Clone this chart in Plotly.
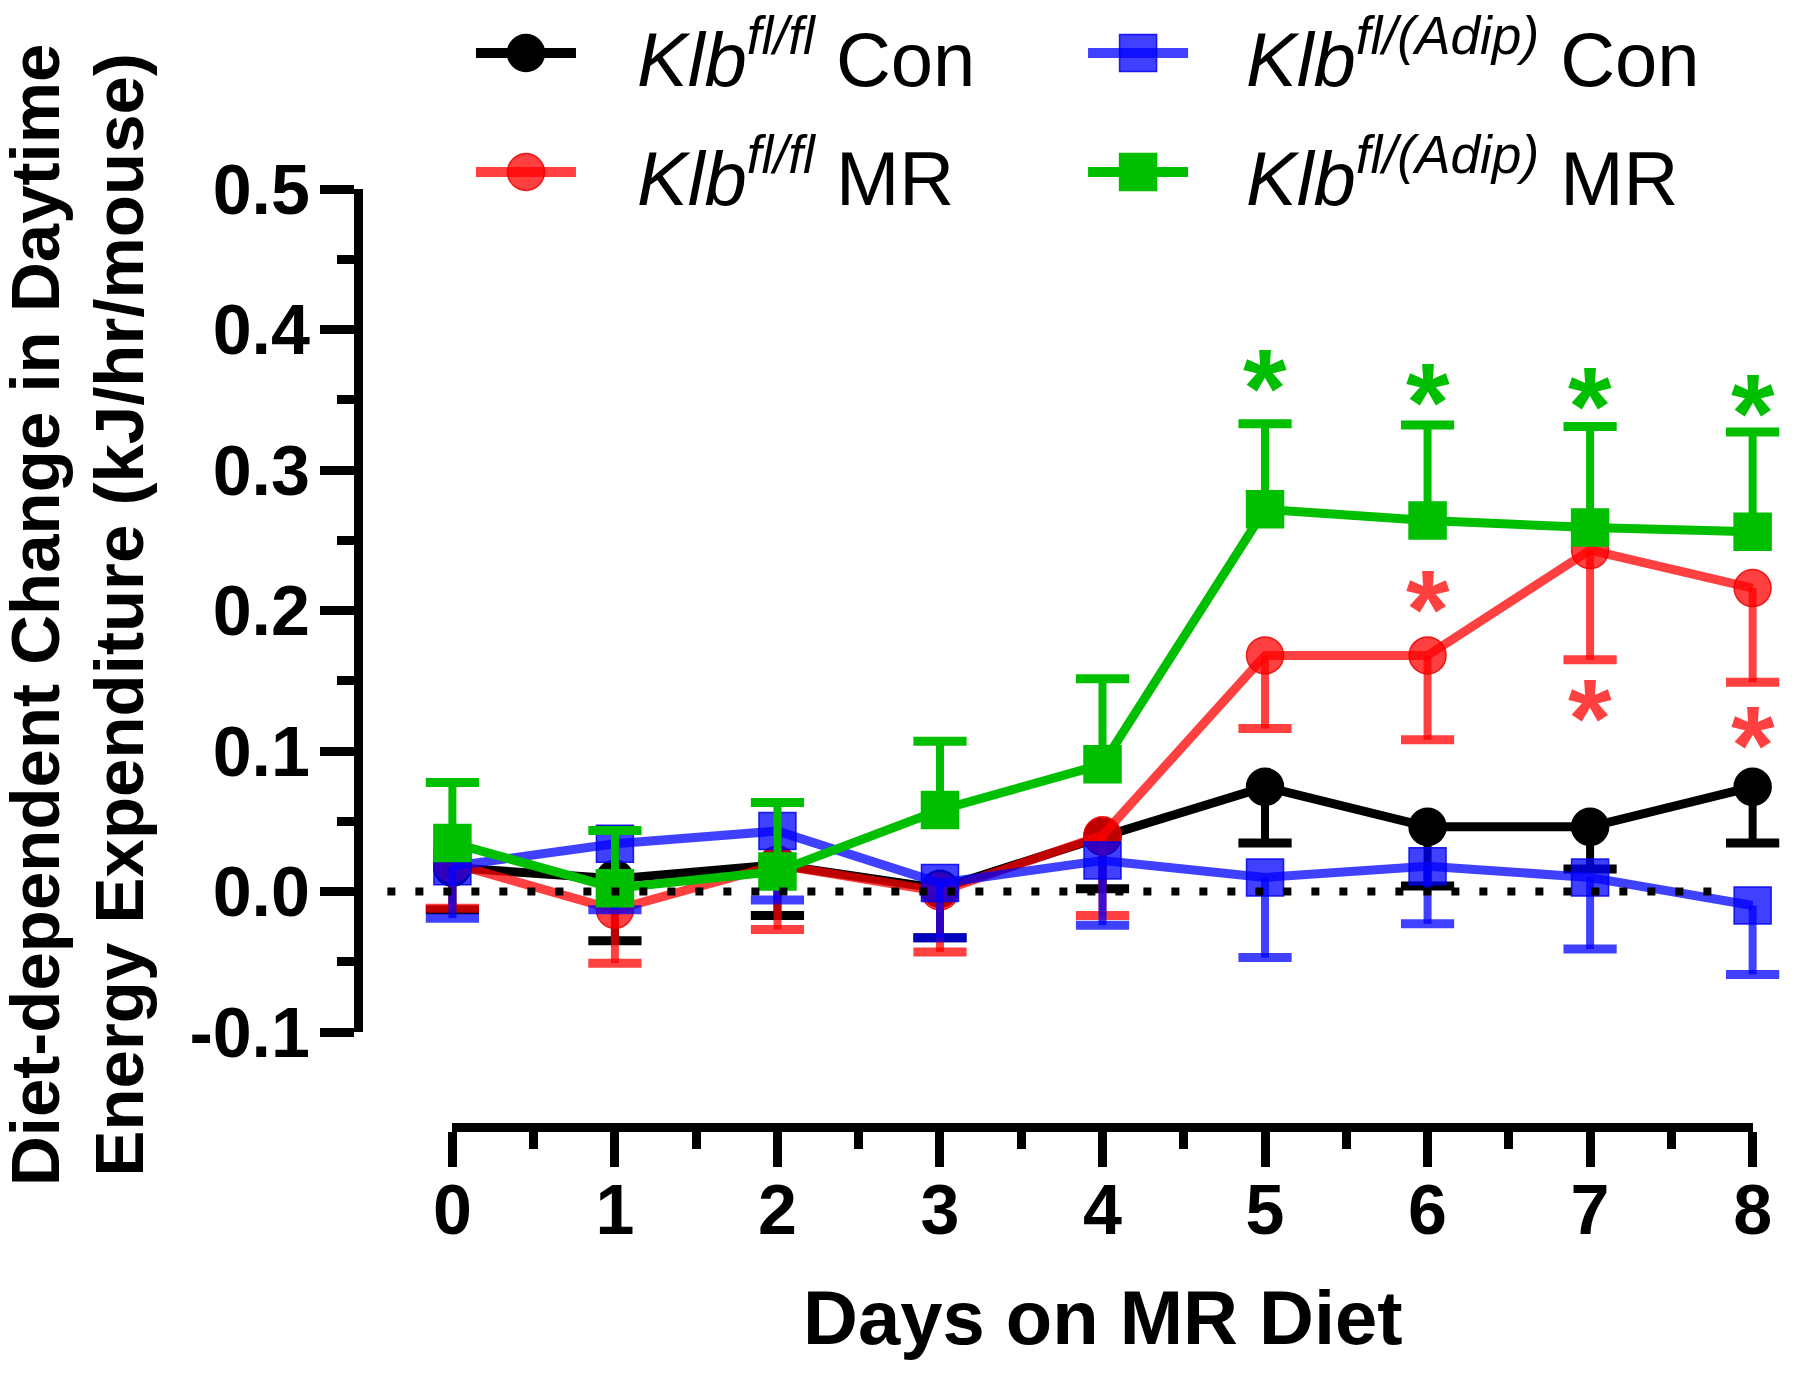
import plotly.graph_objects as go

# ---------------- data ----------------
days = [0, 1, 2, 3, 4, 5, 6, 7, 8]

con_ff = [0.017, 0.009, 0.019, 0.002, 0.039, 0.0745, 0.046, 0.046, 0.0745]
con_ff_err = [0.030, 0.044, 0.036, 0.035, 0.037, 0.040, 0.042, 0.030, 0.040]

mr_ff = [0.020, -0.013, 0.019, 0.000, 0.040, 0.168, 0.168, 0.243, 0.216]
mr_ff_err = [0.032, 0.038, 0.046, 0.043, 0.057, 0.052, 0.060, 0.078, 0.067]

con_adip = [0.018, 0.034, 0.043, 0.006, 0.022, 0.010, 0.018, 0.010, -0.010]
con_adip_err = [0.037, 0.047, 0.049, 0.039, 0.046, 0.057, 0.041, 0.051, 0.049]

mr_adip = [0.0345, 0.0024, 0.0143, 0.058, 0.0905, 0.272, 0.264, 0.259, 0.256]
mr_adip_err = [0.043, 0.041, 0.049, 0.049, 0.061, 0.061, 0.068, 0.072, 0.071]

star_green_x = [5, 6, 7, 8]
star_green_y = [0.370, 0.360, 0.357, 0.352]
star_red_x = [6, 7, 8]
star_red_y = [0.213, 0.135, 0.116]

y_tickvals = [-0.1, 0.0, 0.1, 0.2, 0.3, 0.4, 0.5]
y_ticktext = ["-0.1", "0.0", "0.1", "0.2", "0.3", "0.4", "0.5"]
x_tickvals = [0, 1, 2, 3, 4, 5, 6, 7, 8]
x_ticktext = ["0", "1", "2", "3", "4", "5", "6", "7", "8"]

names = [
    "<i>Klb</i><sup><i>fl/fl</i></sup> Con",
    "<i>Klb</i><sup><i>fl/fl</i></sup> MR",
    "<i>Klb</i><sup><i>fl/(Adip)</i></sup> Con",
    "<i>Klb</i><sup><i>fl/(Adip)</i></sup> MR",
]
y_title_lines = ["Diet-dependent Change in Daytime", "Energy Expenditure (kJ/hr/mouse)"]
x_title = "Days on MR Diet"

# ---------------- styling ----------------
FONT = "Liberation Sans, Arial, Helvetica, sans-serif"
BLACK = "#000000"
RED = "rgba(255,0,0,0.75)"
BLUE = "rgba(0,0,255,0.75)"
GREEN = "#00BE00"
RED_EDGE = "rgba(235,0,0,0.85)"
BLUE_EDGE = "rgba(0,0,235,0.85)"

series = [
    # values, errors, direction(+1 up / -1 down), color, edge, symbol, name
    (con_ff, con_ff_err, -1, BLACK, BLACK, "circle", names[0]),
    (mr_ff, mr_ff_err, -1, RED, RED_EDGE, "circle", names[1]),
    (con_adip, con_adip_err, -1, BLUE, BLUE_EDGE, "square", names[2]),
    (mr_adip, mr_adip_err, +1, GREEN, GREEN, "square", names[3]),
]

W, H = 1800, 1377
PAGE_OFF = 8  # default body margin of the html page
L, R, T, B = 355, 22, 181, 258
PW = W - L - R
PH = H - T - B


def px_x(px):
    """screen x pixel -> paper x"""
    return (px - PAGE_OFF - L) / PW


def px_y(py):
    """screen y pixel -> paper y"""
    return (H - B - (py - PAGE_OFF)) / PH


x_range = [-0.55, 8.15]
y_range = [-0.1, 0.5]
y_dom_bottom = px_y(1032)
x2_dom = [(0 - x_range[0]) / (x_range[1] - x_range[0]),
          (8 - x_range[0]) / (x_range[1] - x_range[0])]

fig = go.Figure()

for vals, errs, direction, color, edge, symbol, name in series:
    up = [e if direction > 0 else 0 for e in errs]
    down = [e if direction < 0 else 0 for e in errs]
    # error bar stems
    fig.add_trace(go.Scatter(
        x=days, y=vals, mode="markers",
        marker=dict(size=1, color="rgba(0,0,0,0)"),
        error_y=dict(type="data", symmetric=False, array=up, arrayminus=down,
                     width=0, thickness=8, color=color),
        showlegend=False, hoverinfo="skip", cliponaxis=False,
    ))
    # error bar caps
    cap_y = [v + direction * e for v, e in zip(vals, errs)]
    fig.add_trace(go.Scatter(
        x=days, y=cap_y, mode="markers",
        marker=dict(symbol="line-ew", size=38, color=color,
                    line=dict(width=9, color=color)),
        showlegend=False, hoverinfo="skip", cliponaxis=False,
    ))
    # line + markers
    fig.add_trace(go.Scatter(
        x=days, y=vals, mode="lines+markers", name=name,
        line=dict(color=color, width=9),
        marker=dict(symbol=symbol, size=37, color=color,
                    line=dict(width=1.5, color=edge)),
        showlegend=False, cliponaxis=False,
    ))

# dummy traces so the offset x axis and the label axes are drawn
fig.add_trace(go.Scatter(x=[None], y=[None], xaxis="x2", yaxis="y",
                         showlegend=False, hoverinfo="skip"))
fig.add_trace(go.Scatter(x=[None], y=[None], xaxis="x3", yaxis="y",
                         showlegend=False, hoverinfo="skip"))
fig.add_trace(go.Scatter(x=[None], y=[None], xaxis="x", yaxis="y2",
                         showlegend=False, hoverinfo="skip"))

shapes = []
# dotted zero line
shapes.append(dict(type="line", xref="x", yref="y", x0=-0.40, x1=7.85, y0=0, y1=0,
                   line=dict(color="black", width=8, dash="8px,20px"), layer="above"))

# manual legend (symbol + text)
legend_cols = [(527, 637), (1143, 1250)]
legend_rows = [53, 172]
legend_order = [(0, 0, 0), (1, 0, 1), (2, 1, 0), (3, 1, 1)]  # series idx, col, row
annotations = []
for idx, col, row in legend_order:
    vals, errs, direction, color, edge, symbol, name = series[idx]
    cx = px_x(legend_cols[col][0])
    cy = px_y(legend_rows[row])
    shapes.append(dict(type="line", xref="paper", yref="paper",
                       xsizemode="pixel", ysizemode="pixel",
                       xanchor=cx, yanchor=cy, x0=-50, x1=50, y0=0, y1=0,
                       line=dict(color=color, width=10)))
    shapes.append(dict(type="circle" if symbol == "circle" else "rect",
                       xref="paper", yref="paper",
                       xsizemode="pixel", ysizemode="pixel",
                       xanchor=cx, yanchor=cy, x0=-18.5, x1=18.5, y0=-18.5, y1=18.5,
                       fillcolor=color, line=dict(color=edge, width=1.5)))
    annotations.append(dict(
        text=name, xref="paper", yref="paper",
        x=px_x(legend_cols[col][1]), y=px_y(legend_rows[row] + 51),
        xanchor="left", yanchor="bottom", showarrow=False,
        font=dict(family=FONT, size=76, color="black"),
    ))

# significance stars
for sx, sy in zip(star_green_x, star_green_y):
    annotations.append(dict(text="*", x=sx, y=sy, xref="x", yref="y",
                            showarrow=False, xanchor="center", yanchor="middle",
                            yshift=-17,
                            font=dict(family=FONT, size=112, color=GREEN, weight="bold")))
for sx, sy in zip(star_red_x, star_red_y):
    annotations.append(dict(text="*", x=sx, y=sy, xref="x", yref="y",
                            showarrow=False, xanchor="center", yanchor="middle",
                            yshift=-17,
                            font=dict(family=FONT, size=112, color="rgb(255,64,64)",
                                      weight="bold")))

# axis titles
for line_text, cx in zip(y_title_lines, [33, 117]):
    annotations.append(dict(
        text=line_text, textangle=-90, xref="paper", yref="paper",
        x=px_x(cx), y=px_y(615), xanchor="center", yanchor="middle", showarrow=False,
        font=dict(family=FONT, size=69, color="black", weight="bold"),
    ))
annotations.append(dict(
    text=x_title, xref="paper", yref="paper",
    x=px_x(1108), y=px_y(1317), xanchor="center", yanchor="middle",
    showarrow=False, font=dict(family=FONT, size=76, color="black", weight="bold"),
))

tickfont = dict(family=FONT, size=70, color="black", weight="bold")

fig.update_layout(
    width=W, height=H,
    margin=dict(l=L, r=R, t=T, b=B, pad=0),
    paper_bgcolor="white", plot_bgcolor="rgba(0,0,0,0)",
    showlegend=False,
    font=dict(family=FONT, color="black"),
    xaxis=dict(range=x_range, domain=[0, 1], visible=False, anchor="y"),
    # x axis line + ticks
    xaxis2=dict(
        range=[0, 8], domain=x2_dom, anchor="free", position=0,
        showline=True, linewidth=9, linecolor="black",
        ticks="outside", ticklen=35, tickwidth=9, tickcolor="black",
        tickvals=x_tickvals, showticklabels=False,
        minor=dict(dtick=0.5, tick0=0, ticks="outside", ticklen=17, tickwidth=9,
                   tickcolor="black"),
        showgrid=False, zeroline=False,
    ),
    # x tick labels
    xaxis3=dict(
        range=[0, 8], domain=x2_dom, anchor="free", position=0,
        showline=False, ticks="", tickvals=x_tickvals, ticktext=x_ticktext,
        tickfont=tickfont, ticklabelstandoff=36,
        showgrid=False, zeroline=False,
    ),
    # y axis line + ticks
    yaxis=dict(
        range=y_range, domain=[y_dom_bottom, 1], anchor="x",
        showline=True, linewidth=9, linecolor="black",
        ticks="outside", ticklen=34, tickwidth=9, tickcolor="black",
        tickvals=y_tickvals, showticklabels=False,
        minor=dict(dtick=0.05, tick0=-0.1, ticks="outside", ticklen=17, tickwidth=9,
                   tickcolor="black"),
        showgrid=False, zeroline=False,
    ),
    # y tick labels
    yaxis2=dict(
        range=y_range, overlaying="y", anchor="x", side="left",
        showline=False, ticks="", tickvals=y_tickvals, ticktext=y_ticktext,
        tickfont=tickfont, ticklabelstandoff=52,
        showgrid=False, zeroline=False,
    ),
    shapes=shapes,
    annotations=annotations,
)

fig.write_html("out.html")
